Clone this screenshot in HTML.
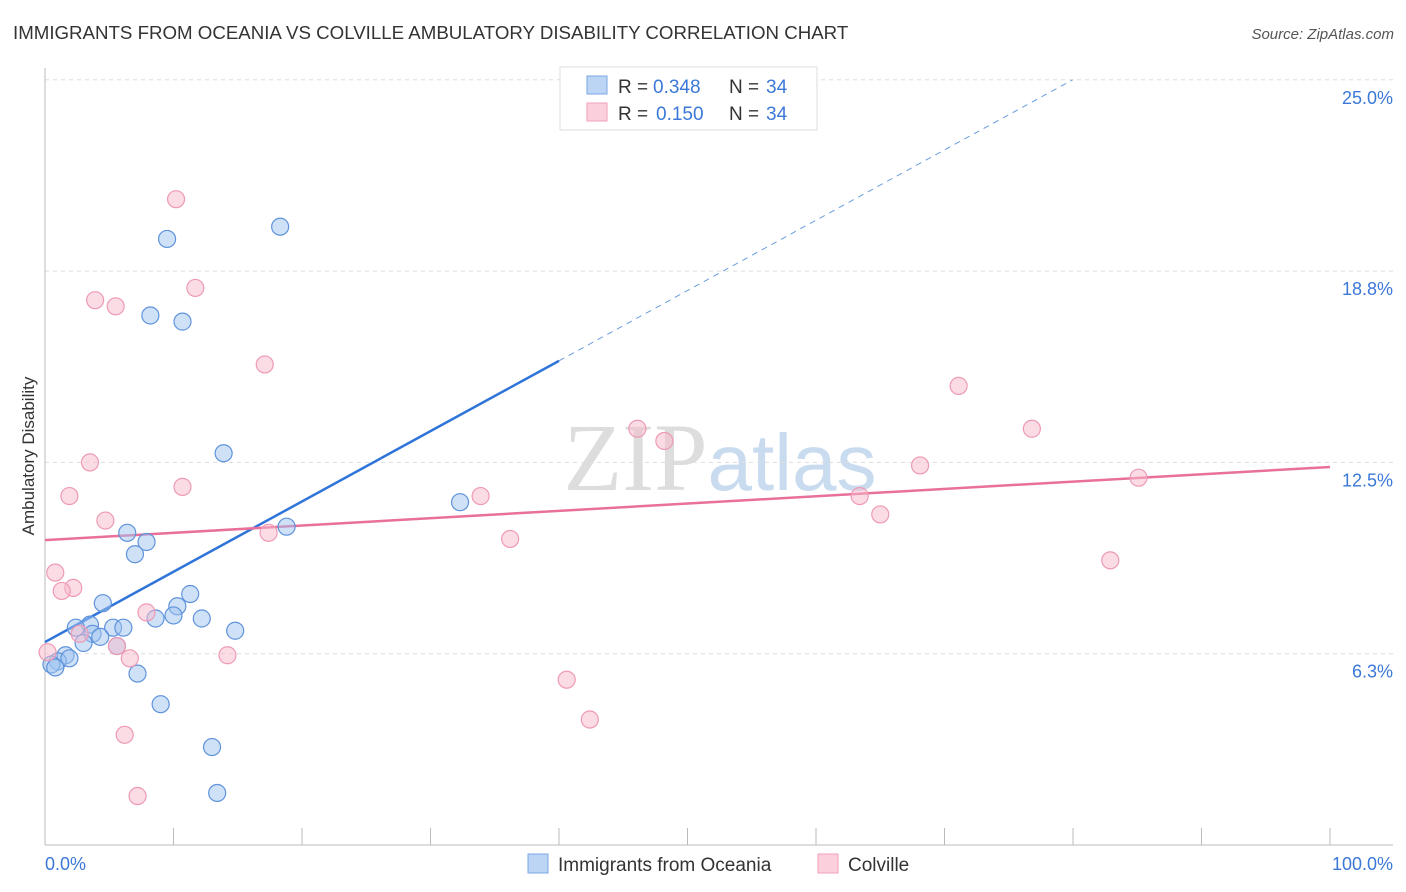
<!DOCTYPE html>
<html><head><meta charset="utf-8"><style>
body{margin:0;background:#fff;font-family:"Liberation Sans",sans-serif}
svg{display:block}
</style></head><body>
<svg id="chart" width="1406" height="892" xmlns="http://www.w3.org/2000/svg" font-family="Liberation Sans, sans-serif">
<text x="13" y="39" font-size="18.7" fill="#333">IMMIGRANTS FROM OCEANIA VS COLVILLE AMBULATORY DISABILITY CORRELATION CHART</text>
<text x="1394" y="39" font-size="15" fill="#555" text-anchor="end" font-style="italic">Source: ZipAtlas.com</text>
<text x="720" y="490" font-size="96" text-anchor="middle" fill="#ddd" font-family="Liberation Serif, serif">ZIP<tspan fill="#c9dbef" font-family="Liberation Sans, sans-serif" font-size="80">atlas</tspan></text>
<g id="grid"></g><g id="axes"></g><g id="lines"></g><g id="pts"></g>
<text transform="translate(34,456) rotate(-90)" font-size="17" fill="#333" text-anchor="middle">Ambulatory Disability</text>
<text x="45" y="870" font-size="18" fill="#3b78d8">0.0%</text>
<text x="1393" y="870" font-size="18" fill="#3b78d8" text-anchor="end">100.0%</text>
<g>
<rect x="560" y="67" width="257" height="63" fill="#fff" stroke="#ddd"/>
<rect x="587" y="76" width="20" height="18" fill="#bcd5f5" stroke="#7aa8e6"/>
<rect x="587" y="103" width="20" height="18" fill="#fbcfdc" stroke="#f0a0b8"/>
<text x="618" y="93" font-size="19" fill="#333">R =</text>
<text x="653" y="93" font-size="19" fill="#3b78d8">0.348</text>
<text x="729" y="93" font-size="19" fill="#333">N =</text>
<text x="766" y="93" font-size="19" fill="#3b78d8">34</text>
<text x="618" y="120" font-size="19" fill="#333">R =</text>
<text x="656" y="120" font-size="19" fill="#3b78d8">0.150</text>
<text x="729" y="120" font-size="19" fill="#333">N =</text>
<text x="766" y="120" font-size="19" fill="#3b78d8">34</text>
</g>
<g>
<rect x="528" y="854" width="20" height="19" fill="#bcd5f5" stroke="#7aa8e6"/>
<text x="558" y="871" font-size="19" fill="#333">Immigrants from Oceania</text>
<rect x="818" y="854" width="20" height="19" fill="#fbcfdc" stroke="#f0a0b8"/>
<text x="848" y="871" font-size="19" fill="#333">Colville</text>
</g>
</svg>
<script>
const yTicks=[6.25,12.5,18.75,25];
const yTickLabels=["6.3%","12.5%","18.8%","25.0%"];
const xTicks=[0,10,20,30,40,50,60,70,80,90,100];
const blueX=[9.5,18.3,8.2,10.7,13.9,32.3,18.8,6.4,7.9,7.0,11.3,4.5,10.3,8.6,12.2,10.0,3.5,2.4,5.3,6.1,14.8,3.7,4.3,3.0,5.6,1.6,1.0,1.9,0.5,7.2,9.0,13.0,13.4,0.8];
const blueY=[19.8,20.2,17.3,17.1,12.8,11.2,10.4,10.2,9.9,9.5,8.2,7.9,7.8,7.4,7.4,7.5,7.2,7.1,7.1,7.1,7.0,6.9,6.8,6.6,6.5,6.2,6.0,6.1,5.9,5.6,4.6,3.2,1.7,5.8];
const pinkX=[10.2,11.7,3.9,5.5,17.1,71.1,76.8,46.1,48.2,3.5,68.1,10.7,1.9,85.1,33.9,63.4,4.7,65.0,17.4,36.2,82.9,0.8,2.2,1.3,7.9,2.7,5.6,0.2,6.6,14.2,40.6,42.4,6.2,7.2];
const pinkY=[21.1,18.2,17.8,17.6,15.7,15.0,13.6,13.6,13.2,12.5,12.4,11.7,11.4,12.0,11.4,11.4,10.6,10.8,10.2,10.0,9.3,8.9,8.4,8.3,7.6,6.9,6.5,6.3,6.1,6.2,5.4,4.1,3.6,1.6];
const blueTrend=[6.63,29.6];
const pinkTrend=[9.96,12.35];
const NS="http://www.w3.org/2000/svg";
const X=v=>45+v/100*1285, Y=v=>845-v/6.25*191.3;
function mk(tag,attrs,parent){const e=document.createElementNS(NS,tag);for(const k in attrs)e.setAttribute(k,attrs[k]);document.getElementById(parent).appendChild(e);return e;}
yTicks.forEach((t,i)=>{
 const g=mk('line',{x1:45,x2:1393,y1:Y(t),y2:Y(t),stroke:'#ddd','stroke-dasharray':'4 4'},'grid');
 
 
 const l=mk('text',{x:1393,y:Y(t)+24,'font-size':18,fill:'#3b78d8','text-anchor':'end'},'grid');
 l.textContent=yTickLabels[i];
 
 
});
const ax=mk('line',{x1:45,x2:45,y1:68,y2:845,stroke:'#bbb'},'axes');


const bx=mk('line',{x1:45,x2:1393,y1:845,y2:845,stroke:'#bbb'},'axes');


xTicks.forEach(t=>{
 const tk=mk('line',{x1:X(t),x2:X(t),y1:828,y2:845,stroke:'#bbb'},'axes');
 
 
});
const bxMid=40;
const b1=mk('line',{x1:X(0),y1:Y(blueTrend[0]),x2:X(bxMid),y2:Y(blueTrend[0]+(blueTrend[1]-blueTrend[0])*bxMid/100),stroke:'#2f74d8','stroke-width':2.5},'lines');


const bEnd=(25-blueTrend[0])/(blueTrend[1]-blueTrend[0])*100;
const b2=mk('line',{x1:X(bxMid),y1:Y(blueTrend[0]+(blueTrend[1]-blueTrend[0])*bxMid/100),x2:X(bEnd),y2:Y(25),stroke:'#6a9de0','stroke-width':1,'stroke-dasharray':'6 5'},'lines');


const p1=mk('line',{x1:X(0),y1:Y(pinkTrend[0]),x2:X(100),y2:Y(pinkTrend[1]),stroke:'#e8709a','stroke-width':2.5},'lines');


blueX.forEach((x,i)=>{
 const c=mk('circle',{cx:X(x),cy:Y(blueY[i]),r:8.5,fill:'rgba(160,196,240,0.5)',stroke:'#5f93dc','stroke-width':1.2},'pts');
 
 
});
pinkX.forEach((x,i)=>{
 const c=mk('circle',{cx:X(x),cy:Y(pinkY[i]),r:8.5,fill:'rgba(248,186,204,0.5)',stroke:'#ee9ab4','stroke-width':1.2},'pts');
 
 
});
</script>
</body></html>
